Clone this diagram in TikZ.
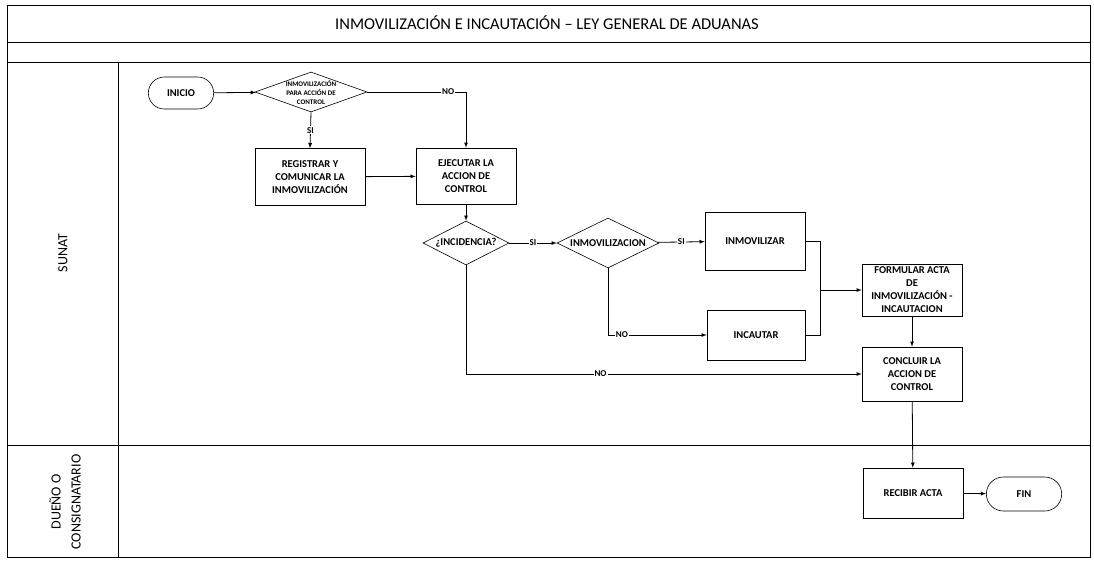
\documentclass[tikz,border=0pt]{standalone}
\usepackage{fontspec}
\setmainfont{Carlito}
\usetikzlibrary{shapes.geometric,shapes.misc}

\newcommand{\dtext}[2]{\makebox[0pt]{\smash{\raisebox{-2.5pt}{\parbox[c]{#1}{\centering #2}}}}}

\begin{document}
\begin{tikzpicture}[x=1pt, y=-1pt,
    proc/.style={draw, line width=0.6pt, minimum width=100pt, minimum height=55pt, align=center, inner sep=2pt, font=\bfseries\fontsize{10.5}{13}\selectfont},
    decis/.style={draw, line width=0.6pt, diamond, inner sep=0pt, font=\bfseries\fontsize{10.5}{13}\selectfont},
    term/.style={draw, line width=0.6pt, rounded rectangle, minimum width=72pt, minimum height=32pt, font=\bfseries\fontsize{10.5}{13}\selectfont},
    flow/.style={-latex, thick},
    lbl/.style={fill=white, inner sep=1pt, font=\bfseries\fontsize{9}{9}\selectfont},
    lane/.style={line width=1pt}]
        \useasboundingbox (0,0) rectangle (1094,560);

        % marco y carriles
        \draw[lane] (7,5) rectangle (1090,557);
        \draw[lane] (7,42) -- (1090,42);
        \draw[lane] (7,62) -- (1090,62);
        \draw[lane] (7,445) -- (1090,445);
        \draw[lane] (118,62) -- (118,557);
        \node[font=\fontsize{16.5}{16.5}\selectfont] (titulo) at (547,23) {INMOVILIZACIÓN E INCAUTACIÓN – LEY GENERAL DE ADUANAS};
        \node[rotate=90, font=\fontsize{14}{14}\selectfont] (sunat) at (63,253) {SUNAT};
        \node[rotate=90, align=center, font=\fontsize{14}{20}\selectfont] (dueno) at (65,502) {DUEÑO O\\CONSIGNATARIO};

        % SUNAT
        \node[term] (inicio) at (181,93) {INICIO};
        \node[decis, minimum width=112pt, minimum height=40pt, font=\bfseries\fontsize{7}{9}\selectfont] (dec1) at (311,92) {\dtext{70pt}{INMOVILIZACIÓN\\PARA ACCIÓN DE\\CONTROL}};
        \node[proc, minimum width=110pt, minimum height=57pt] (registrar) at (310,177) {REGISTRAR Y\\COMUNICAR LA\\INMOVILIZACIÓN};
        \node[proc, minimum height=56pt] (ejecutar) at (466,176) {EJECUTAR LA\\ACCION DE\\CONTROL};
        \node[decis, minimum width=86pt, minimum height=44pt] (incid) at (466,243) {\dtext{80pt}{¿INCIDENCIA?}};
        \node[decis, minimum width=102pt, minimum height=50pt] (inmov) at (608,243) {\dtext{95pt}{INMOVILIZACION}};
        \node[proc, minimum height=58pt] (inmovilizar) at (755,241) {INMOVILIZAR};
        \node[proc, minimum width=98pt, minimum height=50pt] (incautar) at (756,335) {INCAUTAR};
        \node[proc, minimum height=52pt] (formular) at (912,290) {FORMULAR ACTA\\DE\\INMOVILIZACIÓN -\\INCAUTACION};
        \node[proc, minimum height=54pt] (concluir) at (912,374) {CONCLUIR LA\\ACCION DE\\CONTROL};
        \coordinate (union) at (820,290);

        % DUEÑO O CONSIGNATARIO
        \node[proc, minimum height=50pt] (recibir) at (913,493) {RECIBIR ACTA};
        \node[term, minimum width=82pt, minimum height=34pt] (fin) at (1024,494) {FIN};

        \draw[flow] (inicio) -- (dec1);
        \draw[flow] (dec1.east) -| node[lbl, pos=0.41] {NO} (ejecutar.north);
        \draw[flow] (dec1.south) -- node[lbl] {SI} (registrar.north);
        \draw[flow] (registrar) -- (ejecutar);
        \draw[flow] (ejecutar) -- (incid);
        \draw[flow] (incid) -- node[lbl] {SI} (inmov);
        \draw[flow] (inmov) -- node[lbl] {SI} (inmovilizar);
        \draw[flow] (inmov.south) |- node[lbl, pos=0.57] {NO} (incautar.west);
        \draw[thick] (inmovilizar.east) -| (union);
        \draw[thick] (incautar.east) -| (union);
        \draw[flow] (union) -- (formular.west);
        \draw[flow] (formular) -- (concluir);
        \draw[flow] (incid.south) |- node[lbl, pos=0.67] {NO} (concluir.west);
        \draw[flow] (concluir) -- (recibir);
        \draw[flow] (recibir) -- (fin);
    \end{tikzpicture}
\end{document}
